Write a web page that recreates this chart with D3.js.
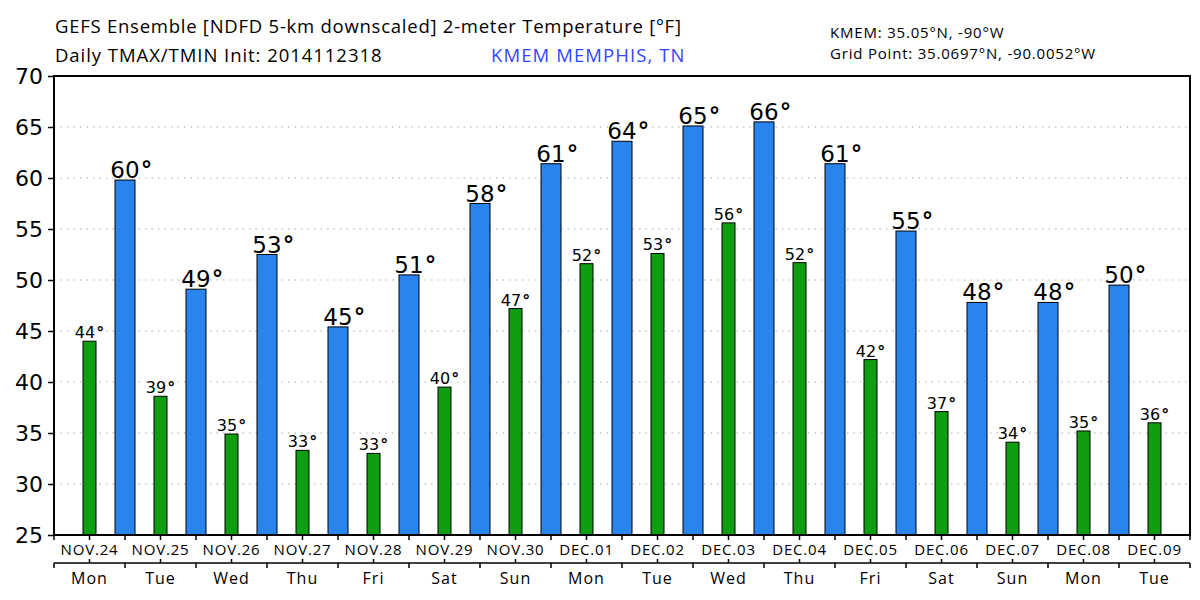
<!DOCTYPE html>
<html>
<head>
<meta charset="utf-8">
<script src="https://cdn.jsdelivr.net/npm/d3@7"></script>
<style>
  body { margin: 0; background: #fff; }
  #viz { width: 1200px; height: 600px; }
</style>
</head>
<body>
<div id="viz"></div>
<script>
// daily min (centred on each day) and max (on the day boundaries)
const dates = ['NOV.24', 'NOV.25', 'NOV.26', 'NOV.27', 'NOV.28', 'NOV.29', 'NOV.30', 'DEC.01',
    'DEC.02', 'DEC.03', 'DEC.04', 'DEC.05', 'DEC.06', 'DEC.07', 'DEC.08', 'DEC.09'];
const weekdays = ['Mon', 'Tue', 'Wed', 'Thu', 'Fri', 'Sat', 'Sun', 'Mon',
    'Tue', 'Wed', 'Thu', 'Fri', 'Sat', 'Sun', 'Mon', 'Tue'];
const tmin = [44.0, 38.6, 34.9, 33.3, 33.0, 39.5, 47.2, 51.6, 52.6, 55.6, 51.7, 42.2, 37.1, 34.1, 35.2, 36.0];
const tmax = [59.8, 49.1, 52.5, 45.4, 50.5, 57.5, 61.4, 63.6, 65.1, 65.5, 61.4, 54.8, 47.8, 47.8, 49.5];
const yTicks = [25, 30, 35, 40, 45, 50, 55, 60, 65, 70];

const svg = d3
    .select('#viz')
    .append('svg')
    .attr('width', 1200)
    .attr('height', 600);

const plotLeft = 54, plotRight = 1190, plotTop = 76, plotBottom = 535;

const xScale = d3.scaleLinear().domain([0, dates.length]).range([plotLeft, plotRight]);
const yScale = d3.scaleLinear().domain([25, 70]).range([plotBottom, plotTop]);

// titles
const numFont = 'DejaVu Sans';
const txtFont = 'Open Sans';
const title = (x, y, size, spacing, str, fill) =>
    svg.append('text')
        .attr('x', x).attr('y', y)
        .attr('font-family', txtFont).attr('font-size', size)
        .attr('letter-spacing', spacing)
        .attr('fill', fill || '#000')
        .text(str);
title(55, 33, 18.5, 0.75, 'GEFS Ensemble [NDFD 5-km downscaled] 2-meter Temperature [°F]');
title(55, 62, 18.5, 0.95, 'Daily TMAX/TMIN Init: 2014112318');
title(491, 62, 18.5, 1.1, 'KMEM MEMPHIS, TN', '#3346ff');
title(830, 38, 15, 0.8, 'KMEM: 35.05°N, -90°W');
title(830, 59, 15, 0.8, 'Grid Point: 35.0697°N, -90.0052°W');

// grid
svg.append('g')
    .selectAll('line')
    .data(yTicks.filter((d) => d > 25 && d < 70))
    .join('line')
    .attr('x1', plotLeft).attr('x2', plotRight)
    .attr('y1', (d) => yScale(d)).attr('y2', (d) => yScale(d))
    .attr('stroke', '#aaa')
    .attr('stroke-width', 1.2)
    .attr('stroke-dasharray', '1.5,5');

// y axis
const yAxis = svg.append('g')
    .attr('transform', `translate(${plotLeft},0)`)
    .call(d3.axisLeft(yScale).tickValues(yTicks).tickSize(6).tickSizeOuter(0));
yAxis.select('.domain').remove();
yAxis.selectAll('line').attr('stroke-width', 1.5);
yAxis.selectAll('text')
    .attr('font-family', numFont)
    .attr('font-size', 22)
    .attr('dx', -2)
    .attr('dy', '0.36em');

// bars
const bars = svg.append('g');
bars.selectAll('.tmin')
    .data(tmin)
    .join('rect')
    .attr('class', 'tmin')
    .attr('x', (d, i) => xScale(i + 0.5) - 6.5)
    .attr('width', 13)
    .attr('y', (d) => yScale(d))
    .attr('height', (d) => plotBottom - yScale(d))
    .attr('fill', '#0f9e12')
    .attr('stroke', '#000')
    .attr('stroke-width', 1);
bars.selectAll('.tmax')
    .data(tmax)
    .join('rect')
    .attr('class', 'tmax')
    .attr('x', (d, i) => xScale(i + 1) - 10)
    .attr('width', 20)
    .attr('y', (d) => yScale(d))
    .attr('height', (d) => plotBottom - yScale(d))
    .attr('fill', '#2a84ee')
    .attr('stroke', '#000')
    .attr('stroke-width', 1);

// value labels: digits + bold degree sign; shift = how much of the label sits right of centre
function valueLabels(data, cls, pos, size, gap, wholeCentred) {
    const g = svg.append('g').attr('class', cls).attr('font-family', numFont);
    g.selectAll('g')
        .data(data)
        .join('g')
        .each(function (d, i) {
            const cx = xScale(pos(i));
            const y = yScale(d) - gap;
            const num = d3.select(this).append('text')
                .attr('y', y)
                .attr('font-size', size)
                .text(Math.round(d));
            const deg = d3.select(this).append('text')
                .attr('y', y)
                .attr('font-size', size)
                .attr('font-weight', 'bold')
                .text('°');
            const wn = num.node().getComputedTextLength();
            const wd = deg.node().getComputedTextLength();
            const x0 = wholeCentred ? cx - (wn + wd + 1) / 2 : cx - wn / 2;
            num.attr('x', x0);
            deg.attr('x', x0 + wn + 1);
        });
}
valueLabels(tmin, 'lmin', (i) => i + 0.5, 16, 3, true);
valueLabels(tmax, 'lmax', (i) => i + 1, 23, 2, false);

// frame
svg.append('rect')
    .attr('x', plotLeft).attr('y', plotTop)
    .attr('width', plotRight - plotLeft).attr('height', plotBottom - plotTop)
    .attr('fill', 'none')
    .attr('stroke', '#000')
    .attr('stroke-width', 2);

// date axis: ticks every half day below the frame
const halfDays = d3.range(0, dates.length * 2 + 1).map((d) => d / 2);
svg.append('g')
    .selectAll('line')
    .data(halfDays)
    .join('line')
    .attr('x1', (d) => xScale(d)).attr('x2', (d) => xScale(d))
    .attr('y1', plotBottom).attr('y2', plotBottom + 5)
    .attr('stroke', '#000')
    .attr('stroke-width', 1.5);
svg.append('g')
    .selectAll('text')
    .data(dates)
    .join('text')
    .attr('x', (d, i) => xScale(i + 0.5))
    .attr('y', 555)
    .attr('text-anchor', 'middle')
    .attr('font-family', txtFont)
    .attr('font-size', 15)
    .attr('letter-spacing', 0.8)
    .text((d) => d);

// weekday axis
const wy = 563;
const wAxis = svg.append('g');
wAxis.append('line')
    .attr('x1', plotLeft).attr('x2', plotRight)
    .attr('y1', wy).attr('y2', wy)
    .attr('stroke', '#000')
    .attr('stroke-width', 1.5);
wAxis.selectAll('.bound')
    .data(d3.range(0, dates.length + 1))
    .join('line')
    .attr('class', 'bound')
    .attr('x1', (d) => xScale(d)).attr('x2', (d) => xScale(d))
    .attr('y1', wy).attr('y2', wy + 5)
    .attr('stroke', '#000')
    .attr('stroke-width', 1.5);
wAxis.selectAll('.mid')
    .data(d3.range(0, dates.length))
    .join('line')
    .attr('class', 'mid')
    .attr('x1', (d) => xScale(d + 0.5)).attr('x2', (d) => xScale(d + 0.5))
    .attr('y1', wy - 4).attr('y2', wy)
    .attr('stroke', '#000')
    .attr('stroke-width', 1.5);
wAxis.selectAll('.wd')
    .data(weekdays)
    .join('text')
    .attr('class', 'wd')
    .attr('x', (d, i) => xScale(i + 0.5))
    .attr('y', 584)
    .attr('text-anchor', 'middle')
    .attr('font-family', txtFont)
    .attr('font-size', 16)
    .attr('letter-spacing', 1)
    .text((d) => d);
</script>
</body>
</html>
